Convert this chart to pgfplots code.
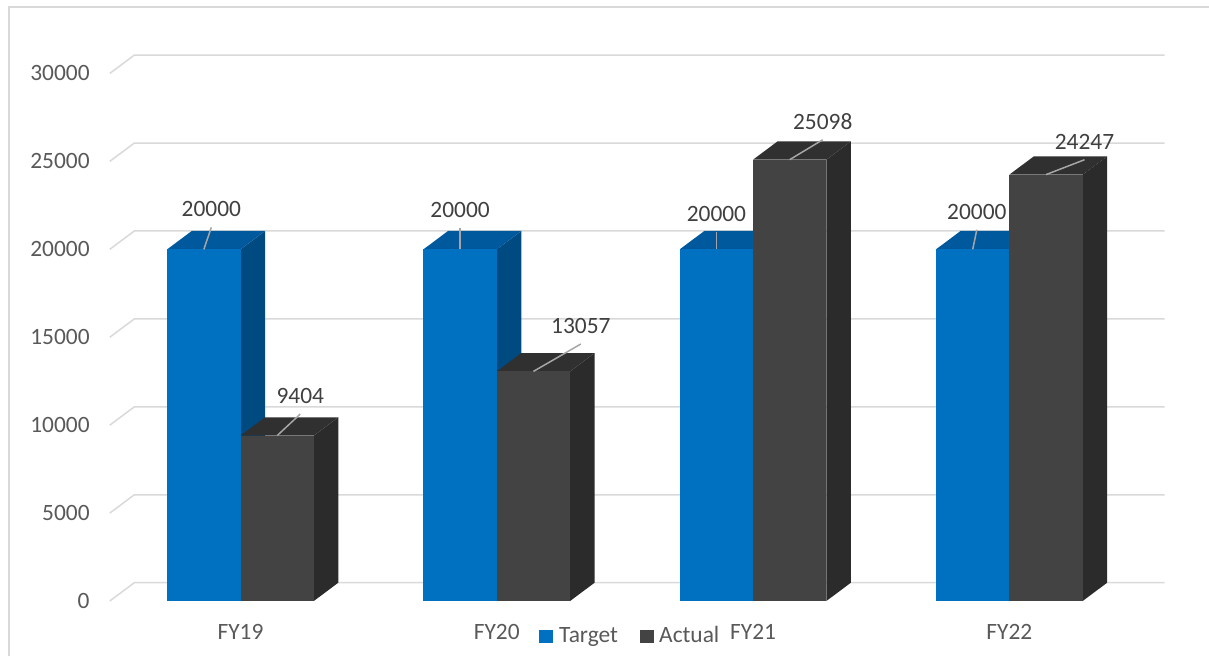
\documentclass[border=0pt]{standalone}
\usepackage{pgfplots}
\pgfplotsset{compat=1.18}
\usepackage{pgfplotstable}
\usepackage{fontspec}
\setmainfont{Carlito}
\definecolor{tfront}{HTML}{0070C0}
\definecolor{ttop}{HTML}{00599D}
\definecolor{tside}{HTML}{004A82}
\definecolor{afront}{HTML}{434343}
\definecolor{atop}{HTML}{303030}
\definecolor{aside}{HTML}{2B2B2B}
\definecolor{gridc}{HTML}{D9D9D9}
\definecolor{lblc}{HTML}{404040}
\definecolor{tickc}{HTML}{595959}
\definecolor{leaderc}{HTML}{A6A6A6}
\newcommand\chartfont{\fontsize{23.4}{28}\selectfont}

% x = category index, target/actual values, label offsets (pt) of target/actual data labels
\pgfplotstableread{
x target actual tlx tly alx aly
0 20000 9404 7.5 40.0 23.1 39.6
1 20000 13057 0.0 39.3 47.4 45.4
2 20000 25098 0.0 35.3 33.0 37.9
3 20000 24247 4.1 37.6 38.5 32.9
}\datatable

\begin{document}
\begin{tikzpicture}
\useasboundingbox (-109.8pt,-55pt) rectangle (1099.2pt,601pt);
\begin{axis}[
  at={(0pt,0pt)}, anchor=south west,
  scale only axis, width=1030.3pt, height=527.55pt,
  xmin=-0.51, xmax=3.51, ymin=0, ymax=30000,
  clip=false, no markers,
  axis line style={draw=none}, tick style={draw=none}, major tick length=0pt,
  scaled y ticks=false,
  ytick={0,5000,10000,15000,20000,25000,30000},
  yticklabels={0,5000,10000,15000,20000,25000,30000},
  xtick={0,1,2,3}, xticklabels={FY19,FY20,FY21,FY22},
  yticklabel style={anchor=east, inner sep=0pt, xshift=-20pt, font=\chartfont, text=tickc},
  xticklabel style={anchor=center, inner sep=0pt, yshift=-30.7pt, font=\chartfont, text=tickc},
]
% gridlines (floor diagonal + back wall)
\pgfplotsforeachungrouped \v in {0,5000,10000,15000,20000,25000,30000}{%
  \edef\cmd{\noexpand\draw[gridc, line width=1.5pt] (axis cs:-0.51,\v) -- (axis cs:-0.4144,\fpeval{\v+1040.7}) -- (axis cs:3.6056,\fpeval{\v+1040.7});}%
  \cmd
}
% bars
\pgfplotsforeachungrouped \i in {0,1,2,3}{%
  \pgfplotstablegetelem{\i}{target}\of\datatable \let\vT\pgfplotsretval
  \pgfplotstablegetelem{\i}{actual}\of\datatable \let\vA\pgfplotsretval
  \pgfplotstablegetelem{\i}{tlx}\of\datatable \let\tlx\pgfplotsretval
  \pgfplotstablegetelem{\i}{tly}\of\datatable \let\tly\pgfplotsretval
  \pgfplotstablegetelem{\i}{alx}\of\datatable \let\alx\pgfplotsretval
  \pgfplotstablegetelem{\i}{aly}\of\datatable \let\aly\pgfplotsretval
  \edef\xa{\fpeval{\i-0.286}}\edef\xb{\fpeval{\i}}\edef\xc{\fpeval{\i+0.286}}%
  \edef\xad{\fpeval{\xa+0.0956}}\edef\xbd{\fpeval{\xb+0.0956}}\edef\xcd{\fpeval{\xc+0.0956}}%
  \edef\vTd{\fpeval{\vT+1040.7}}\edef\vAd{\fpeval{\vA+1040.7}}%
  \edef\xtm{\fpeval{\i-0.143}}\edef\xam{\fpeval{\i+0.143}}%
  \edef\cmd{%
    \noexpand\addplot[draw=none, fill=tside] coordinates {(\xb,0) (\xbd,1040.7) (\xbd,\vTd) (\xb,\vT)} -- cycle;
    \noexpand\addplot[draw=none, fill=ttop] coordinates {(\xa,\vT) (\xb,\vT) (\xbd,\vTd) (\xad,\vTd)} -- cycle;
    \noexpand\addplot[draw=none, fill=tfront] coordinates {(\xa,0) (\xb,0) (\xb,\vT) (\xa,\vT)} -- cycle;
    \noexpand\addplot[draw=none, fill=aside] coordinates {(\xc,0) (\xcd,1040.7) (\xcd,\vAd) (\xc,\vA)} -- cycle;
    \noexpand\addplot[draw=none, fill=atop] coordinates {(\xb,\vA) (\xc,\vA) (\xcd,\vAd) (\xbd,\vAd)} -- cycle;
    \noexpand\addplot[draw=none, fill=afront] coordinates {(\xb,0) (\xc,0) (\xc,\vA) (\xb,\vA)} -- cycle;
    \noexpand\draw[leaderc, line width=1.5pt] (axis cs:\xtm,\vT) -- ([xshift=\tlx pt, yshift=\fpeval{\tly-18} pt]axis cs:\xtm,\vT);
    \noexpand\draw[leaderc, line width=1.5pt] (axis cs:\xam,\vA) -- ([xshift=\alx pt, yshift=\fpeval{\aly-18} pt]axis cs:\xam,\vA);
    \noexpand\node[inner sep=0pt, text=lblc, font=\noexpand\chartfont] at ([xshift=\tlx pt, yshift=\tly pt]axis cs:\xtm,\vT) {\vT};
    \noexpand\node[inner sep=0pt, text=lblc, font=\noexpand\chartfont] at ([xshift=\alx pt, yshift=\aly pt]axis cs:\xam,\vA) {\vA};
  }%
  \cmd
}
\end{axis}
% chart border (top and left visible)
\draw[gridc, line width=1.5pt] (-100.8pt,-55pt) -- (-100.8pt,594pt) -- (1099.2pt,594pt);
% legend
\fill[tfront] (429.2pt,-42.3pt) rectangle (443.5pt,-29pt);
\node[anchor=base west, inner sep=0pt, text=tickc, font=\chartfont] at (449.2pt,-41.7pt) {Target};
\fill[afront] (530.2pt,-42.3pt) rectangle (544.5pt,-29pt);
\node[anchor=base west, inner sep=0pt, text=tickc, font=\chartfont] at (549.2pt,-41.7pt) {Actual};
\end{tikzpicture}
\end{document}
